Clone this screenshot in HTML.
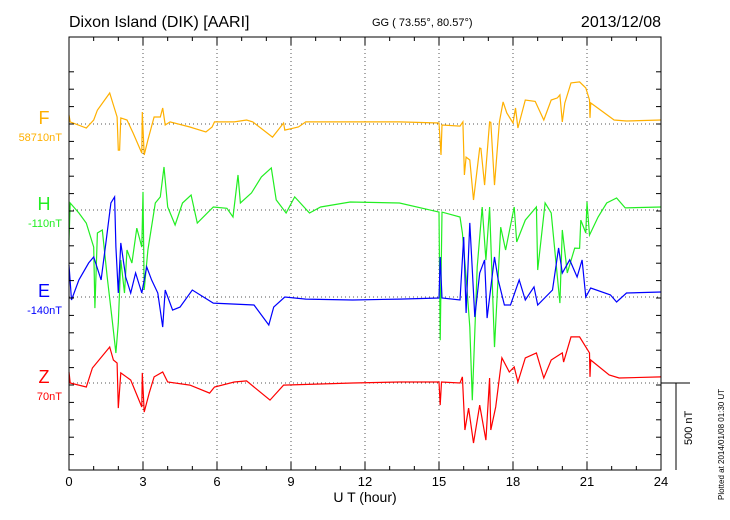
<!DOCTYPE html>
<html><head><meta charset="utf-8">
<style>
body{margin:0;background:#fff;}
svg{display:block;font-family:"Liberation Sans",sans-serif;}
</style></head>
<body>
<svg id="chart" width="730" height="520" viewBox="0 0 730 520" xmlns="http://www.w3.org/2000/svg">
<text x="69" y="27" font-size="16">Dixon Island (DIK)  [AARI]</text>
<text x="372" y="26" font-size="11">GG ( 73.55°,  80.57°)</text>
<text x="661" y="27" font-size="16" text-anchor="end">2013/12/08</text>
<text x="365" y="502" font-size="14" text-anchor="middle">U T (hour)</text>
<text transform="translate(724,500) rotate(-90)" font-size="8">Plotted at 2014/01/08 01:30 UT</text>
<g id="grid"></g><g id="series"></g><g id="axes"></g>
</svg>
<script>
const hoursTicks=[0,3,6,9,12,15,18,21,24];
const compNames=["F","H","E","Z"];
const compBaselines=["58710nT","-110nT","-140nT","70nT"];
const compColors=["#ffb000","#22ee22","#0000ff","#ff0000"];
const fT=[0,0.05,0.7,1.0,1.15,1.65,1.8,1.95,2.0,2.05,2.1,2.35,2.6,2.95,2.97,3.05,3.2,3.45,3.7,3.8,3.9,4.1,4.9,5.55,5.8,5.9,6.7,7.2,7.45,8.25,8.7,8.75,9.3,9.6,11.5,13.4,15.0,15.08,15.12,15.85,15.97,16.03,16.1,16.25,16.4,16.65,16.7,16.85,17.05,17.1,17.25,17.45,17.6,17.75,18.0,18.1,18.2,18.5,18.9,19.25,19.55,19.8,19.9,20.0,20.1,20.35,20.7,20.95,21.1,21.12,21.15,21.55,22.1,22.6,24];
const fV=[52,12,-23,23,80,178,109,40,-150,-150,35,23,-52,-167,69,-178,-92,40,40,92,-6,12,-17,-46,-17,12,12,23,12,-75,6,-35,-17,12,12,12,6,-178,-6,-12,12,-293,-190,-207,-437,-138,-140,-351,12,10,-351,12,127,63,6,92,-23,138,130,23,138,150,167,12,120,236,242,207,138,35,121,80,23,17,23];
const hT=[0,0.05,0.4,0.7,1.0,1.05,1.15,1.35,1.55,1.75,1.9,2.0,2.1,2.25,2.35,2.55,2.75,2.95,3.0,3.05,3.2,3.5,3.7,3.85,4.0,4.3,4.6,4.95,5.2,5.85,6.4,6.65,6.85,6.95,7.4,7.8,8.2,8.4,8.8,9.15,9.75,10.2,11.4,13.4,15.0,15.05,15.12,15.85,15.95,16.1,16.25,16.35,16.55,16.75,16.9,17.05,17.25,17.5,17.7,18.05,18.15,18.5,18.95,19.0,19.3,19.55,19.9,20.0,20.2,20.5,20.7,20.75,20.95,21.0,21.1,21.45,21.8,22.2,22.55,24];
const hV=[-173,40,-17,-75,-213,-564,-132,-115,-385,-633,-822,-650,-288,-477,-230,-305,-104,-213,104,-460,-230,40,75,247,17,-86,40,86,-75,17,10,-40,201,40,98,190,242,58,-17,75,-17,17,46,40,-12,-748,-12,-40,-132,-385,-673,-1093,-328,17,-288,17,-788,-98,-230,17,-184,-58,17,-345,40,-17,-535,-115,-362,-219,-220,-58,-132,46,-144,-40,40,69,12,17];
const eT=[0,0.1,0.4,0.8,1.0,1.3,1.5,1.7,1.85,1.9,2.0,2.1,2.3,2.5,2.7,2.95,3.15,3.35,3.6,3.8,3.9,4.2,4.5,5.0,5.85,7.5,8.1,8.3,8.75,9.6,11.5,13.4,15.0,15.05,15.12,15.85,16.0,16.1,16.25,16.45,16.65,16.85,16.95,17.25,17.4,17.65,17.9,18.25,18.5,18.85,19.0,19.6,19.85,20.0,20.3,20.6,20.8,20.95,21.15,21.95,22.2,22.6,24];
const eV=[184,-17,98,196,230,98,316,541,575,288,23,311,115,23,138,23,173,98,23,-173,40,-75,-58,40,-35,-46,-161,-58,0,-12,-17,-12,-6,230,-6,-17,345,-92,426,-115,138,213,-121,230,98,-46,-46,98,-17,58,-46,40,282,138,213,115,213,0,52,12,-29,23,29];
const zT=[0,0.05,0.7,0.95,1.65,1.8,1.95,2.0,2.1,2.5,2.95,2.97,3.05,3.25,3.45,3.8,4.0,4.9,5.7,5.9,6.7,7.2,8.15,8.7,11.5,13.4,15.0,15.05,15.1,15.85,15.95,16.05,16.2,16.4,16.65,16.9,17.05,17.1,17.3,17.55,17.85,18.05,18.2,18.5,18.95,19.25,19.55,20.0,20.05,20.35,20.7,21.1,21.12,21.15,21.9,22.3,24];
const zV=[63,0,-23,86,207,132,115,-144,58,17,-138,58,-167,-58,35,63,6,-12,-58,-23,6,12,-98,-12,0,6,6,-127,6,0,35,-270,-144,-345,-127,-328,29,-270,-138,144,63,92,6,144,173,29,132,173,120,265,265,173,35,132,46,29,35];
const seriesT=[fT,hT,eT,zT], seriesV=[fV,hV,eV,zV];

const L=69,R=661,T=37,B=470;
const baseY=[124,210,297,383];
const pxPerNT=87/500;
const xs=h=>L+(R-L)*h/24;
const ys=(i,v)=>baseY[i]-v*pxPerNT;
const NS="http://www.w3.org/2000/svg";
function mk(tag,attrs,parent){const e=document.createElementNS(NS,tag);for(const k in attrs)e.setAttribute(k,attrs[k]);parent.appendChild(e);return e;}
const grid=document.getElementById('grid'),ser=document.getElementById('series'),ax=document.getElementById('axes');
hoursTicks.forEach(h=>{ if(h>0&&h<24){const g=mk('line',{x1:xs(h),x2:xs(h),y1:T,y2:B,stroke:'#555','stroke-dasharray':'1,3','stroke-width':1},grid);

}});
baseY.forEach((y,i)=>{const g=mk('line',{x1:L,x2:R,y1:y,y2:y,stroke:'#555','stroke-dasharray':'1,3','stroke-width':1},grid);

});
seriesT.forEach((tt,i)=>{const d=tt.map((t,j)=>(j?'L':'M')+xs(t).toFixed(1)+','+ys(i,seriesV[i][j]).toFixed(1)).join('');
const p=mk('path',{d:d,fill:'none',stroke:compColors[i],'stroke-width':1.2},ser);


const n=mk('text',{x:44,y:baseY[i]+0,'font-size':18,fill:compColors[i],'text-anchor':'middle'},ser);n.textContent=compNames[i];


const b=mk('text',{x:62,y:baseY[i]+17,'font-size':11,fill:compColors[i],'text-anchor':'end'},ser);b.textContent=compBaselines[i];

});
const fr=mk('rect',{x:L,y:T,width:R-L,height:B-T,fill:'none',stroke:'#000','stroke-width':1},ax);


for(let h=0;h<=24;h++){const len=h%3===0?8:4;
mk('line',{x1:xs(h),x2:xs(h),y1:B,y2:B-len,stroke:'#000'},ax);
mk('line',{x1:xs(h),x2:xs(h),y1:T,y2:T+len,stroke:'#000'},ax);}
for(let y=T+17.4*2;y<B;y+=17.4){mk('line',{x1:L,x2:L+5,y1:y,y2:y,stroke:'#000'},ax);mk('line',{x1:R,x2:R-5,y1:y,y2:y,stroke:'#000'},ax);}
hoursTicks.forEach(h=>{const t=mk('text',{x:xs(h),y:486,'font-size':13,'text-anchor':'middle'},ax);t.textContent=h;

});
mk('line',{x1:R,x2:690,y1:383,y2:383,stroke:'#000'},ax);
mk('line',{x1:676,x2:676,y1:383,y2:B,stroke:'#000'},ax);
const sb=mk('text',{transform:'translate(692,445) rotate(-90)','font-size':11},ax);sb.textContent='500 nT';


</script>
</body></html>
